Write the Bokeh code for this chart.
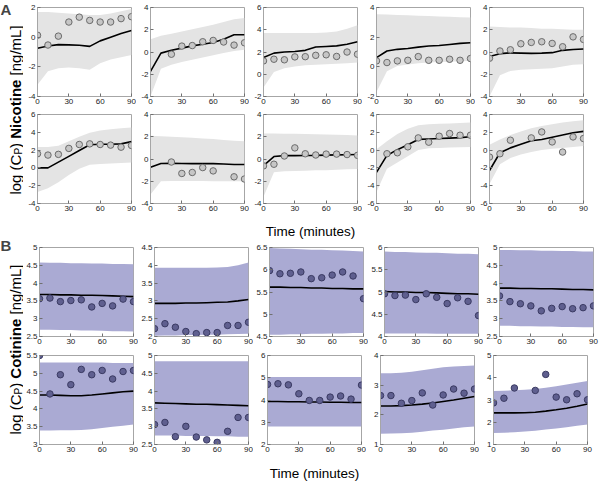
import math
from bokeh.plotting import figure
from bokeh.layouts import row, column
from bokeh.models import Range1d, FixedTicker, NumeralTickFormatter, Label
from bokeh.embed import file_html
from bokeh.resources import INLINE

# ---------------- data ----------------
time = [0, 10, 20, 30, 40, 50, 60, 70, 80, 90]
x_ticks = [0, 30, 60, 90]

# Nicotine panels (A), observed points (None = missing)
nic_obs = [
    [0.13, -0.53, 0.07, 1.02, 1.35, 1.13, 1.02, 1.02, 1.25, 1.38],
    [None, None, -0.2, 0.53, 0.58, 0.92, 1.04, 0.9, 0.62, 0.83],
    [1.2, 1.35, 1.3, 1.56, 1.58, 1.7, 1.75, 1.6, 2.0, 1.8],
    [0.4, 0.29, 0.4, 0.44, 0.69, 0.44, 0.44, 0.51, 0.44, 0.56],
    [-0.56, 0.09, 0.2, 0.74, 0.86, 0.92, 0.77, 0.47, 1.36, 1.13],
    [1.59, 1.44, 1.52, 2.19, 2.63, 2.7, 2.63, 2.56, 2.33, 2.52],
    [None, None, -0.27, -1.3, -1.21, -0.77, -1.07, None, -1.6, -1.8],
    [-0.62, -0.47, 0.27, 1.0, 0.47, 0.36, 0.44, 0.44, 0.4, 0.33],
    [None, -0.41, -0.3, 0.37, 1.37, 0.89, 1.56, 1.86, 1.67, 1.67],
    [-0.78, -0.41, 1.11, None, 1.37, 2.04, 0.92, -0.22, 1.48, 1.3],
]
nic_pred = [
    [-0.75, -0.6, -0.5, -0.52, -0.55, -0.62, -0.25, 0.0, 0.25, 0.45],
    [-1.75, -0.1, 0.15, 0.35, 0.55, 0.7, 0.85, 1.15, 1.55, 1.55],
    [1.5, 1.9, 2.0, 2.05, 2.15, 2.45, 2.5, 2.55, 2.7, 2.93],
    [0.62, 1.07, 1.18, 1.24, 1.33, 1.4, 1.44, 1.51, 1.58, 1.62],
    [-0.4, -0.15, -0.08, -0.1, -0.12, -0.1, -0.06, 0.15, 0.22, 0.27],
    [0.0, 0.0, 0.65, 1.3, 1.95, 2.6, 2.65, 2.65, 2.7, 2.95],
    [-0.75, -0.4, -0.38, -0.4, -0.42, -0.42, -0.42, -0.45, -0.5, -0.5],
    [-0.6, 0.22, 0.3, 0.3, 0.32, 0.33, 0.35, 0.37, 0.38, 0.4],
    [-2.5, -0.6, 0.05, 0.6, 1.2, 1.25, 1.3, 1.35, 1.4, 1.5],
    [-2.3, -0.3, 0.25, 0.65, 1.05, 1.2, 1.45, 1.7, 1.95, 2.1],
]
nic_hi = [
    [1.7, 1.7, 1.65, 1.6, 1.55, 1.5, 1.5, 1.6, 1.75, 1.9],
    [1.15, 1.45, 1.65, 1.85, 2.05, 2.25, 2.45, 2.7, 2.95, 3.05],
    [3.7, 3.7, 3.7, 3.7, 3.7, 3.7, 3.75, 3.85, 4.1, 4.4],
    [3.55, 3.52, 3.5, 3.48, 3.45, 3.42, 3.4, 3.38, 3.35, 3.33],
    [2.3, 2.25, 2.2, 2.2, 2.15, 2.1, 2.1, 2.05, 2.0, 2.0],
    [2.35, 2.35, 2.5, 3.0, 3.5, 3.95, 4.2, 4.35, 4.45, 4.55],
    [2.1, 2.05, 2.0, 1.95, 1.9, 1.85, 1.8, 1.7, 1.65, 1.6],
    [2.3, 2.3, 2.28, 2.26, 2.24, 2.22, 2.2, 2.18, 2.16, 2.12],
    [0.1, 1.0, 1.8, 2.4, 2.8, 2.9, 2.95, 3.0, 3.05, 3.1],
    [0.6, 1.2, 1.7, 2.1, 2.45, 2.7, 2.9, 3.1, 3.25, 3.35],
]
nic_lo = [
    [-3.2, -2.3, -2.1, -2.05, -2.1, -2.2, -1.75, -1.5, -1.35, -1.2],
    [-4.0, -1.5, -1.15, -0.9, -0.7, -0.5, -0.3, -0.1, 0.1, 0.2],
    [-1.2, 0.2, 0.55, 0.7, 0.8, 0.85, 0.9, 0.95, 1.0, 1.05],
    [-1.7, -0.3, 0.05, 0.15, 0.25, 0.3, 0.32, 0.35, 0.37, 0.4],
    [-4.0, -2.1, -1.7, -1.6, -1.55, -1.5, -1.45, -1.3, -1.15, -1.1],
    [-2.7, -2.3, -1.6, -0.8, -0.1, 0.35, 0.45, 0.5, 0.55, 0.6],
    [-3.2, -2.0, -1.98, -1.98, -1.98, -1.98, -2.0, -2.0, -2.0, -2.0],
    [-3.4, -1.2, -1.1, -1.08, -1.05, -1.02, -1.0, -0.97, -0.93, -0.9],
    [-4.7, -2.1, -1.4, -0.7, 0.0, 0.2, 0.25, 0.3, 0.32, 0.35],
    [-3.8, -1.6, -0.9, -0.5, -0.2, 0.0, 0.15, 0.25, 0.35, 0.45],
]
nic_ylim = [(-4, 2), (-4, 4), (-2, 6), (-2, 4), (-4, 4),
            (-4, 6), (-4, 4), (-4, 4), (-6, 4), (-6, 4)]
nic_ystep = [2, 2, 2, 2, 2, 2, 2, 2, 2, 2]

# Cotinine panels (B)
cot_obs = [
    [3.56, 3.58, 3.48, 3.51, 3.53, 3.33, 3.43, 3.36, 3.55, 3.48],
    [2.22, 2.36, 2.26, 2.14, 2.08, 2.11, 2.11, 2.31, 2.31, 2.4],
    [5.98, 5.91, 5.92, 5.95, 5.8, 5.82, 5.88, 5.95, 5.86, 5.35],
    [4.96, 4.92, 4.93, 4.83, 4.96, 4.88, 4.74, 4.87, 4.79, 4.47],
    [3.64, 3.48, 3.42, 3.36, 3.22, 3.29, 3.34, 3.28, 3.31, 3.36],
    [5.5, 4.42, 4.96, 4.68, 5.11, 4.96, 5.08, 4.84, 5.05, 5.08],
    [3.06, 3.12, 2.72, 3.01, 2.71, 2.63, 2.56, 2.87, 3.26, 3.26],
    [4.7, 4.73, 4.68, 4.28, 3.98, 3.98, 4.13, 4.18, 4.04, 4.67],
    [2.65, 2.65, 2.39, 2.48, 2.74, 2.33, 2.67, 2.87, 2.73, 2.87],
    [2.87, 3.08, 3.54, None, 3.43, 4.15, 3.13, 3.01, 3.28, 3.01],
]
cot_pred = [
    [3.68, 3.68, 3.67, 3.67, 3.66, 3.66, 3.65, 3.64, 3.63, 3.62],
    [2.93, 2.93, 2.93, 2.94, 2.94, 2.95, 2.96, 2.97, 3.0, 3.04],
    [5.61, 5.61, 5.6, 5.6, 5.59, 5.59, 5.58, 5.58, 5.57, 5.57],
    [5.01, 5.0, 5.0, 4.99, 4.99, 4.98, 4.97, 4.96, 4.96, 4.95],
    [3.86, 3.86, 3.85, 3.85, 3.84, 3.84, 3.83, 3.82, 3.82, 3.81],
    [4.39, 4.39, 4.38, 4.37, 4.37, 4.39, 4.42, 4.45, 4.48, 4.5],
    [3.67, 3.66, 3.65, 3.64, 3.63, 3.63, 3.62, 3.61, 3.6, 3.59],
    [3.93, 3.93, 3.92, 3.92, 3.91, 3.91, 3.9, 3.9, 3.89, 3.89],
    [2.3, 2.3, 2.31, 2.33, 2.36, 2.4, 2.45, 2.5, 2.56, 2.62],
    [2.42, 2.42, 2.42, 2.43, 2.45, 2.5, 2.56, 2.63, 2.72, 2.82],
]
cot_hi = [
    [4.58, 4.57, 4.57, 4.56, 4.56, 4.55, 4.55, 4.54, 4.54, 4.53],
    [3.93, 3.93, 3.93, 3.93, 3.93, 3.93, 3.94, 3.95, 4.0, 4.08],
    [6.49, 6.48, 6.47, 6.46, 6.45, 6.45, 6.44, 6.43, 6.42, 6.41],
    [5.91, 5.9, 5.9, 5.89, 5.88, 5.88, 5.87, 5.86, 5.86, 5.85],
    [4.93, 4.93, 4.92, 4.92, 4.91, 4.91, 4.9, 4.9, 4.89, 4.89],
    [5.3, 5.3, 5.3, 5.3, 5.3, 5.3, 5.3, 5.29, 5.29, 5.29],
    [4.84, 4.84, 4.84, 4.84, 4.84, 4.84, 4.84, 4.84, 4.84, 4.84],
    [5.03, 5.03, 5.03, 5.03, 5.03, 5.03, 5.03, 5.03, 5.03, 5.03],
    [3.4, 3.4, 3.42, 3.45, 3.5, 3.55, 3.6, 3.63, 3.65, 3.66],
    [3.4, 3.42, 3.44, 3.46, 3.5, 3.55, 3.62, 3.7, 3.78, 3.85],
]
cot_lo = [
    [2.69, 2.69, 2.68, 2.68, 2.67, 2.67, 2.66, 2.65, 2.65, 2.64],
    [2.02, 2.03, 2.03, 2.04, 2.04, 2.05, 2.05, 2.06, 2.07, 2.08],
    [4.54, 4.54, 4.55, 4.55, 4.56, 4.56, 4.57, 4.57, 4.58, 4.58],
    [4.07, 4.07, 4.07, 4.07, 4.07, 4.06, 4.06, 4.06, 4.06, 4.06],
    [2.8, 2.8, 2.79, 2.79, 2.78, 2.78, 2.77, 2.77, 2.76, 2.76],
    [3.39, 3.39, 3.4, 3.4, 3.41, 3.43, 3.46, 3.5, 3.53, 3.56],
    [2.75, 2.75, 2.75, 2.74, 2.74, 2.74, 2.73, 2.73, 2.72, 2.72],
    [2.81, 2.81, 2.81, 2.81, 2.81, 2.81, 2.81, 2.81, 2.81, 2.81],
    [1.36, 1.37, 1.38, 1.4, 1.43, 1.47, 1.5, 1.54, 1.58, 1.61],
    [1.52, 1.53, 1.55, 1.58, 1.62, 1.67, 1.72, 1.78, 1.84, 1.9],
]
cot_ylim = [(2.5, 5), (2, 4.5), (4.5, 6.5), (4, 6), (2.5, 5),
            (3, 5.5), (2.5, 5), (2, 6), (1, 4), (1, 5)]
cot_ystep = [0.5, 0.5, 0.5, 0.5, 0.5, 0.5, 0.5, 1, 1, 1]

# ---------------- style ----------------
FONT = "Liberation Sans"
NIC_BAND = "#e4e4e4"
COT_BAND = "#aaaad3"
NIC_FILL, NIC_EDGE = "#c6c6c6", "#6b6b6b"
COT_FILL, COT_EDGE = "#5f5f8f", "#3a3a62"
FRAME = "#a6a6a6"

FW, FH = 94, 89


def make_ticks(lo, hi, step):
    n = int(round((hi - lo) / step))
    return [round(lo + i * step, 3) for i in range(n + 1)]


def panel(obs, pred, lo, hi, ylim, ystep, band, mfill, medge, top, bottom, last, xlabel, lab_standoff):
    p = figure(frame_width=FW, frame_height=FH,
               x_range=Range1d(0, 90), y_range=Range1d(*ylim),
               output_backend="svg", toolbar_location=None,
               min_border_left=14, min_border_right=8 if last else 5,
               min_border_top=top, min_border_bottom=bottom)
    p.grid.visible = False
    p.outline_line_color = FRAME
    p.outline_line_width = 1
    p.background_fill_color = "white"
    p.border_fill_color = None
    p.varea(x=time, y1=lo, y2=hi, fill_color=band, fill_alpha=1.0)
    p.line(time, pred, line_color="black", line_width=1.6)
    xs = [t for t, v in zip(time, obs) if v is not None]
    ys = [v for v in obs if v is not None]
    p.scatter(xs, ys, marker="circle", size=6.5, fill_color=mfill,
              line_color=medge, line_width=1)
    p.xaxis.ticker = FixedTicker(ticks=x_ticks)
    p.yaxis.ticker = FixedTicker(ticks=make_ticks(ylim[0], ylim[1], ystep))
    p.yaxis.formatter = NumeralTickFormatter(format="0.[0]")
    for ax in p.axis:
        ax.major_tick_in = 3
        ax.major_tick_out = 0
        ax.minor_tick_line_color = None
        ax.axis_line_color = FRAME
        ax.major_tick_line_color = "#707070"
        ax.major_label_text_font = FONT
        ax.major_label_text_font_size = "8px"
        ax.major_label_text_color = "#222222"
        ax.major_label_standoff = 2
    if xlabel:
        p.xaxis.axis_label = "Time (minutes)"
        p.xaxis.axis_label_text_font = FONT
        p.xaxis.axis_label_text_font_size = "13.5px"
        p.xaxis.axis_label_text_font_style = "normal"
        p.xaxis.axis_label_text_color = "black"
        p.xaxis.axis_label_standoff = lab_standoff
    return p


# (analyte, first panel index, top border, bottom border, has x label, label standoff)
row_specs = [
    ("nic", 0, 7, 12, False, 0),
    ("nic", 5, 6, 37, True, 10),
    ("cot", 0, 6, 13, False, 0),
    ("cot", 5, 6, 32, True, 11),
]

rows = []
for kind, start, top, bottom, has_label, lso in row_specs:
    figs = []
    for j in range(5):
        k = start + j
        if kind == "nic":
            f = panel(nic_obs[k], nic_pred[k], nic_lo[k], nic_hi[k], nic_ylim[k], nic_ystep[k],
                      NIC_BAND, NIC_FILL, NIC_EDGE, top, bottom, j == 4, has_label and j == 2, lso)
        else:
            f = panel(cot_obs[k], cot_pred[k], cot_lo[k], cot_hi[k], cot_ylim[k], cot_ystep[k],
                      COT_BAND, COT_FILL, COT_EDGE, top, bottom, j == 4, has_label and j == 2, lso)
        figs.append(f)
    rows.append(row(*figs))

# ---------------- left column: panel letters & y labels ----------------
H = 475
LW = 23
left = figure(frame_width=LW, frame_height=H, x_range=Range1d(0, LW), y_range=Range1d(0, H),
              x_axis_type=None, y_axis_type=None, output_backend="svg",
              toolbar_location=None, min_border=0, outline_line_color=None)
left.grid.visible = False
left.border_fill_color = None
left.background_fill_color = None

left.add_layout(Label(x=0, y=H, text="A", text_font=FONT, text_font_size="15px",
                      text_font_style="bold", text_baseline="top", text_align="left"))
left.add_layout(Label(x=0, y=H - 236, text="B", text_font=FONT, text_font_size="15px",
                      text_font_style="bold", text_baseline="top", text_align="left"))

REG = {"l": 222, "o": 556, "g": 556, " ": 278, "(": 333, "C": 722, "P": 667, ")": 333,
       "[": 278, "n": 556, "/": 278, "m": 833, "L": 556, "]": 278}
BOLD = {"N": 722, "i": 278, "c": 556, "o": 611, "t": 333, "n": 611, "e": 556, "C": 722}


def text_w(s, size, bold):
    tbl = BOLD if bold else REG
    return sum(tbl.get(ch, 556) for ch in s) * size / 1000.0


def ylabel(word, center_from_top):
    size = 15
    pieces = [("log (C", size, False, 0), ("P", 10, False, 3), (") ", size, False, 0),
              (word, size, True, 0), (" [ng/mL]", size, False, 0)]
    total = sum(text_w(s, sz, b) for s, sz, b, _ in pieces)
    pos = (H - center_from_top) - total / 2.0
    base_x = 15
    for s, sz, b, dx in pieces:
        stripped = s.strip()
        lead = len(s) - len(s.lstrip())
        start = pos + text_w(s[:lead], sz, b)
        left.add_layout(Label(x=base_x + dx, y=start, text=stripped, angle=math.pi / 2,
                              text_font=FONT, text_font_size=f"{sz}px",
                              text_font_style="bold" if b else "normal",
                              text_align="left", text_baseline="alphabetic",
                              text_color="black"))
        pos += text_w(s, sz, b)


ylabel("Nicotine", 109.5)
ylabel("Cotinine", 349)

layout = row(left, column(*rows))

with open("out.html", "w") as fh:
    fh.write(file_html(layout, INLINE))
